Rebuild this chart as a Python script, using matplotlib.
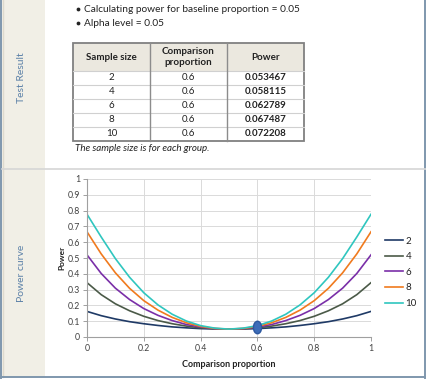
import numpy as np
import matplotlib
matplotlib.use("Agg")
from matplotlib import pyplot as plt
from matplotlib.path import Path
from matplotlib.transforms import Affine2D
from matplotlib.patches import Rectangle, Circle

plt.rcParams['font.family'] = ['Lato', 'DejaVu Sans']

# summary text
bullets = ["Calculating power for baseline proportion = 0.05", "Alpha level = 0.05"]
footnote = "The sample size is for each group."

# result table
table_header = ["Sample size", "Comparison\nproportion", "Power"]
sample_sizes = [2, 4, 6, 8, 10]
comp_props = [0.6, 0.6, 0.6, 0.6, 0.6]
powers = [0.053467, 0.058115, 0.062789, 0.067487, 0.072208]

# power curves
comparison = [0.0, 0.05, 0.1, 0.15, 0.2, 0.25, 0.3, 0.35, 0.4, 0.45, 0.5,
              0.55, 0.6, 0.65, 0.7, 0.75, 0.8, 0.85, 0.9, 0.95, 1.0]
power_n2 = [0.162, 0.135, 0.114, 0.097, 0.084, 0.073, 0.064, 0.058, 0.053, 0.051, 0.050,
            0.051, 0.053, 0.058, 0.064, 0.073, 0.084, 0.097, 0.114, 0.135, 0.162]
power_n4 = [0.344, 0.268, 0.210, 0.166, 0.131, 0.104, 0.084, 0.069, 0.058, 0.052, 0.050,
            0.052, 0.058, 0.069, 0.084, 0.104, 0.131, 0.166, 0.210, 0.268, 0.344]
power_n6 = [0.520, 0.402, 0.309, 0.237, 0.180, 0.137, 0.104, 0.079, 0.063, 0.053, 0.050,
            0.053, 0.063, 0.079, 0.104, 0.137, 0.180, 0.237, 0.309, 0.402, 0.520]
power_n8 = [0.666, 0.526, 0.406, 0.308, 0.230, 0.170, 0.124, 0.090, 0.067, 0.054, 0.050,
            0.054, 0.067, 0.090, 0.124, 0.170, 0.230, 0.308, 0.406, 0.526, 0.666]
power_n10 = [0.777, 0.633, 0.496, 0.378, 0.280, 0.203, 0.144, 0.101, 0.072, 0.056, 0.050,
             0.056, 0.072, 0.101, 0.144, 0.203, 0.280, 0.378, 0.496, 0.633, 0.777]
series_labels = ["2", "4", "6", "8", "10"]
point_x = 0.6
point_y = 0.064

colors = ['#1f3a66', '#4b5a48', '#7a2fa8', '#f07a1e', '#2fc6bf']

W, H = 426, 379
fig = plt.figure(figsize=(W / 100, H / 100), dpi=100)

# background canvas in pixel coords
bg = fig.add_axes([0, 0, 1, 1], zorder=0)
bg.set_xlim(0, W)
bg.set_ylim(H, 0)
bg.axis('off')

bg.add_patch(Rectangle((2, 0), 43, 377, facecolor='#f1efe6', edgecolor='none'))
bg.plot([2.5, 2.5], [0, 377], color='#dedacd', lw=1)
bg.plot([0.7, 0.7], [0, 377.5], color='#7f97ad', lw=1.4)
bg.plot([425.3, 425.3], [0, 377.5], color='#7f97ad', lw=1.4)
bg.plot([0, W], [377.3, 377.3], color='#7f97ad', lw=1.4)
bg.plot([2, W], [168.5, 168.5], color='#d6d6d6', lw=1.2)

side = dict(rotation=90, ha='center', va='center', color='#5c81a8', fontsize=7.5)
bg.text(22, 78, "Test Result", **side)
bg.text(22, 273, "Power curve", **side)

for i, b in enumerate(bullets):
    y = 9 + 14 * i
    bg.add_patch(Circle((78.5, y + 0.5), 1.9, facecolor='#222222', edgecolor='none'))
    bg.text(83.5, y, b, fontsize=7.3, ha='left', va='center', color='#222222')

# table
tx = [73, 150, 227, 304]
ty = [43, 71, 85, 99, 113, 127, 141]
bg.add_patch(Rectangle((tx[0], ty[0]), tx[-1] - tx[0], ty[1] - ty[0],
                       facecolor='#ebe8df', edgecolor='none'))
for y in ty[1:-1]:
    bg.plot([tx[0], tx[-1]], [y, y], color='#d0d0d0', lw=0.8)
for x in tx[1:-1]:
    bg.plot([x, x], [ty[0], ty[-1]], color='#8c8c8c', lw=1.0)
bg.add_patch(Rectangle((tx[0], ty[0]), tx[-1] - tx[0], ty[-1] - ty[0],
                       facecolor='none', edgecolor='#808080', lw=1.3))
cx = [(tx[j] + tx[j + 1]) / 2 for j in range(3)]
for j, h in enumerate(table_header):
    bg.text(cx[j], (ty[0] + ty[1]) / 2, h, ha='center', va='center', fontsize=7,
            fontweight='bold', color='#222222', linespacing=1.25)
for i in range(len(sample_sizes)):
    yc = (ty[i + 1] + ty[i + 2]) / 2
    bg.text(cx[0], yc, str(sample_sizes[i]), ha='center', va='center', fontsize=7, color='#222222')
    bg.text(cx[1], yc, str(comp_props[i]), ha='center', va='center', fontsize=7, color='#222222')
    bg.text(cx[2], yc, "%.6f" % powers[i], ha='center', va='center', fontsize=7,
            fontweight='bold', color='#222222')
bg.text(75, 148.5, footnote, ha='left', va='center', fontsize=7, style='italic', color='#222222')

# chart
ax = fig.add_axes([87 / W, 1 - 337 / H, 284 / W, 158 / H], zorder=1)
ax.patch.set_alpha(0)
series = [power_n2, power_n4, power_n6, power_n8, power_n10]
for vals, lab, c in zip(series, series_labels, colors):
    ax.plot(comparison, vals, color=c, lw=1.2, label=lab)

ellipse = Path.unit_circle().transformed(Affine2D().scale(0.65, 1.0))
ax.plot([point_x], [point_y], marker=ellipse, ms=9, color='#3d6cb8',
        markeredgecolor='#2d58a0', ls='none', zorder=5)

ax.set_xlim(0, 1)
ax.set_ylim(0, 1)
ax.set_xticks(np.arange(0, 1.01, 0.2))
ax.set_yticks(np.arange(0, 1.01, 0.1))
ax.set_xticklabels(["0", "0.2", "0.4", "0.6", "0.8", "1"])
ax.set_yticklabels(["0", "0.1", "0.2", "0.3", "0.4", "0.5", "0.6", "0.7", "0.8", "0.9", "1"])
ax.grid(True, color='#dadada', lw=0.7)
ax.set_axisbelow(True)
for s in ['top', 'right']:
    ax.spines[s].set_visible(False)
for s in ['left', 'bottom']:
    ax.spines[s].set_color('#a0a0a0')
    ax.spines[s].set_linewidth(0.8)
ax.tick_params(axis='both', direction='out', length=3, width=0.7, color='#a0a0a0',
               labelsize=6.3, labelcolor='#404040', pad=2)
ax.set_xlabel("Comparison proportion", fontsize=6.5, fontweight='bold', color='#222222', labelpad=5)
ax.set_ylabel("Power", fontsize=6, fontweight='bold', color='#222222', labelpad=2)

ax.legend(loc='upper left', bbox_to_anchor=(385 / W, 1 - 236.5 / H), bbox_transform=fig.transFigure,
          frameon=False, fontsize=7, handlelength=1.9, handletextpad=0.2, labelspacing=0.68,
          borderpad=0, borderaxespad=0, labelcolor='#222222')

fig.savefig("out.png", dpi=100)
